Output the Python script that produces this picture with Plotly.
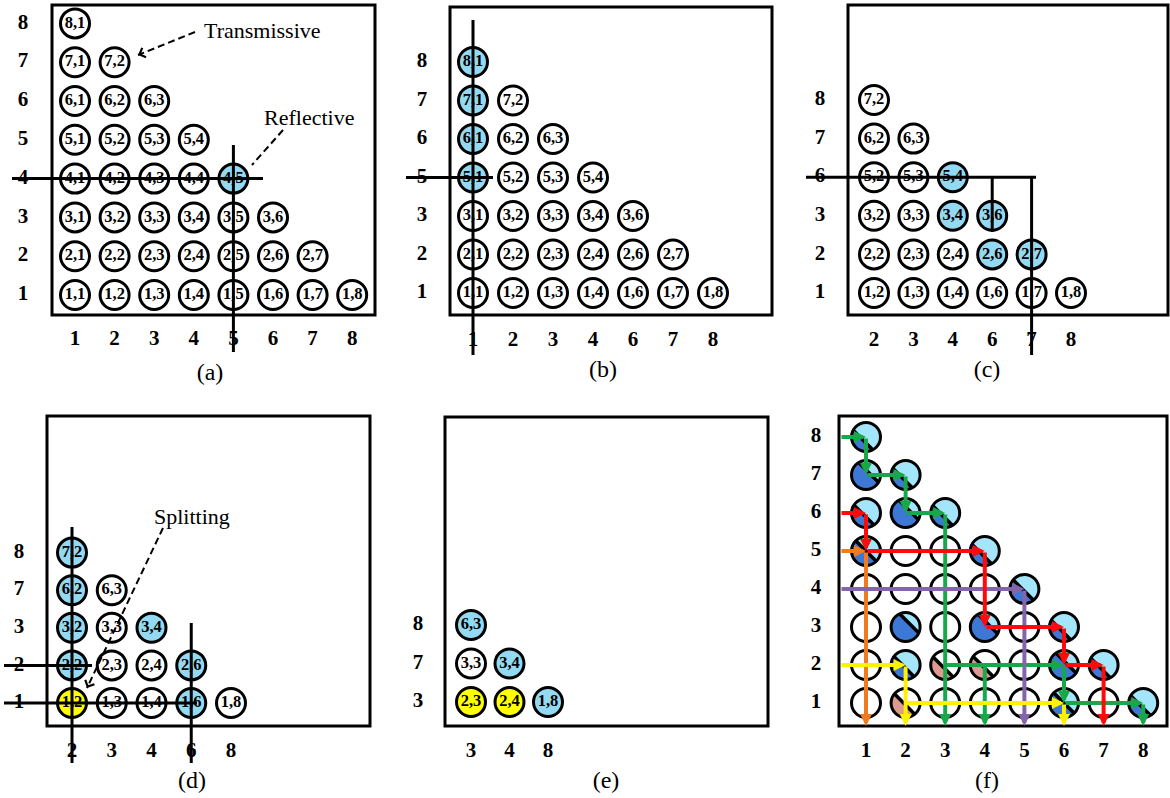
import math
import plotly.graph_objects as go

W, H = 1170, 798
SERIF = "Liberation Serif, Times New Roman, serif"

BLUE = "#93D9F2"
YELLOW = "#FFFF00"
WHITE = "#FFFFFF"
LIGHT_BLUE = "#A3E5FA"
DARK_BLUE = "#3D78D5"
PINK = "#DC9A92"

# ---------------- data ----------------
# (a) full lower-triangular array
A_XTICKS = ["1", "2", "3", "4", "5", "6", "7", "8"]
A_YTICKS = ["8", "7", "6", "5", "4", "3", "2", "1"]
A_ROWS = [
    ["8,1"],
    ["7,1", "7,2"],
    ["6,1", "6,2", "6,3"],
    ["5,1", "5,2", "5,3", "5,4"],
    ["4,1", "4,2", "4,3", "4,4", "4,5"],
    ["3,1", "3,2", "3,3", "3,4", "3,5", "3,6"],
    ["2,1", "2,2", "2,3", "2,4", "2,5", "2,6", "2,7"],
    ["1,1", "1,2", "1,3", "1,4", "1,5", "1,6", "1,7", "1,8"],
]
A_BLUE = ["4,5"]
A_YELLOW = []

# (b) after removing row 4 and column 5
B_XTICKS = ["1", "2", "3", "4", "6", "7", "8"]
B_YTICKS = ["8", "7", "6", "5", "3", "2", "1"]
B_ROWS = [
    ["8,1"],
    ["7,1", "7,2"],
    ["6,1", "6,2", "6,3"],
    ["5,1", "5,2", "5,3", "5,4"],
    ["3,1", "3,2", "3,3", "3,4", "3,6"],
    ["2,1", "2,2", "2,3", "2,4", "2,6", "2,7"],
    ["1,1", "1,2", "1,3", "1,4", "1,6", "1,7", "1,8"],
]
B_BLUE = ["8,1", "7,1", "6,1", "5,1"]
B_YELLOW = []

# (c)
C_XTICKS = ["2", "3", "4", "6", "7", "8"]
C_YTICKS = ["8", "7", "6", "3", "2", "1"]
C_ROWS = [
    ["7,2"],
    ["6,2", "6,3"],
    ["5,2", "5,3", "5,4"],
    ["3,2", "3,3", "3,4", "3,6"],
    ["2,2", "2,3", "2,4", "2,6", "2,7"],
    ["1,2", "1,3", "1,4", "1,6", "1,7", "1,8"],
]
C_BLUE = ["5,4", "3,4", "3,6", "2,6", "2,7"]
C_YELLOW = []

# (d)
D_XTICKS = ["2", "3", "4", "6", "8"]
D_YTICKS = ["8", "7", "3", "2", "1"]
D_ROWS = [
    ["7,2"],
    ["6,2", "6,3"],
    ["3,2", "3,3", "3,4"],
    ["2,2", "2,3", "2,4", "2,6"],
    ["1,2", "1,3", "1,4", "1,6", "1,8"],
]
D_BLUE = ["7,2", "6,2", "3,2", "2,2", "3,4", "2,6", "1,6"]
D_YELLOW = ["1,2"]

# (e)
E_XTICKS = ["3", "4", "8"]
E_YTICKS = ["8", "7", "3"]
E_ROWS = [
    ["6,3"],
    ["3,3", "3,4"],
    ["2,3", "2,4", "1,8"],
]
E_BLUE = ["6,3", "3,4", "1,8"]
E_YELLOW = ["2,3", "2,4"]

# (f) complete array with split states: (row, col) -> (colour scheme, chord offset)
F_XTICKS = ["1", "2", "3", "4", "5", "6", "7", "8"]
F_YTICKS = ["8", "7", "6", "5", "4", "3", "2", "1"]
F_SPLIT = {
    (8, 1): ("blue", -0.30),
    (7, 1): ("blue", 0.25),
    (7, 2): ("blue", -0.30),
    (6, 1): ("blue", -0.20),
    (6, 2): ("blue", 0.30),
    (6, 3): ("blue", -0.25),
    (5, 1): ("blue", 0.00),
    (5, 4): ("blue", -0.30),
    (4, 5): ("blue", -0.10),
    (3, 2): ("blue", 0.35),
    (3, 4): ("blue", 0.30),
    (3, 6): ("blue", -0.30),
    (2, 2): ("blue", -0.15),
    (2, 3): ("pink", -0.20),
    (2, 4): ("pink", -0.15),
    (2, 6): ("blue", 0.20),
    (2, 7): ("blue", -0.30),
    (1, 2): ("pink", -0.10),
    (1, 6): ("blue", 0.00),
    (1, 8): ("blue", -0.25),
}
# signal routes through the array, as (col, row) nodes; "L" = array input edge, "B" = output edge
F_ROUTES = [
    ("#F07A1E", [("L", 5), (1, 5), (1, "B")]),
    ("#18A84A", [("L", 8), (1, 8), (1, 7), (2, 7), (2, 6), (3, 6), (3, "B")]),
    ("#18A84A", [(3, 2), (6, 2), (6, 1), (8, 1), (8, "B")]),
    ("#18A84A", [(4, 2), (4, "B")]),
    ("#8466A8", [("L", 4), (5, 4), (5, "B")]),
    ("#FF0A0A", [("L", 6), (1, 6), (1, 5), (4, 5), (4, 3), (6, 3), (6, 2), (7, 2), (7, "B")]),
    ("#FFF200", [("L", 2), (2, 2), (2, "B")]),
    ("#FFF200", [(2, 1), (6, 1), (6, "B")]),
]

# ---------------- layout geometry (pixels) ----------------
PANELS = [
    dict(tag="(a)", cell=(0, 0, 390, 390), x0=75, y0=295, dx=39.6, dy=38.8,
         box=(52, 5, 375, 315), ytick_x=23, xtick_y=340, cap=(210, 374)),
    dict(tag="(b)", cell=(390, 0, 780, 390), x0=473, y0=293, dx=40.0, dy=38.5,
         box=(450, 7, 772, 315), ytick_x=422, xtick_y=341, cap=(603, 371)),
    dict(tag="(c)", cell=(780, 0, 1170, 390), x0=874, y0=293, dx=39.4, dy=38.6,
         box=(848, 5, 1168, 315), ytick_x=820, xtick_y=341, cap=(987, 371)),
    dict(tag="(d)", cell=(0, 390, 390, 798), x0=72, y0=703, dx=39.75, dy=37.6,
         box=(47, 416, 370, 726), ytick_x=19, xtick_y=752, cap=(192, 782)),
    dict(tag="(e)", cell=(390, 390, 780, 798), x0=471, y0=702, dx=38.5, dy=38.5,
         box=(445, 417, 768, 726), ytick_x=418, xtick_y=752, cap=(606, 782)),
    dict(tag="(f)", cell=(780, 390, 1170, 798), x0=866, y0=703, dx=39.6, dy=38.0,
         box=(839, 416, 1167, 726), ytick_x=816, xtick_y=752, cap=(987, 782)),
]

ARRAYS = [
    (A_XTICKS, A_YTICKS, A_ROWS, A_BLUE, A_YELLOW),
    (B_XTICKS, B_YTICKS, B_ROWS, B_BLUE, B_YELLOW),
    (C_XTICKS, C_YTICKS, C_ROWS, C_BLUE, C_YELLOW),
    (D_XTICKS, D_YTICKS, D_ROWS, D_BLUE, D_YELLOW),
    (E_XTICKS, E_YTICKS, E_ROWS, E_BLUE, E_YELLOW),
]

# crosshairs: (orientation, grid index, from px, to px)
CROSSHAIRS = {
    0: [("h", 4, 12, 263), ("v", 5, 145, 352)],
    1: [("v", 1, 20, 355), ("h", 4, 406, 493)],
    2: [("h", 4, 806, 1036), ("v", 4, 176, 232), ("v", 5, 176, 355)],
    3: [("v", 1, 527, 763), ("h", 2, 4, 92), ("h", 1, 4, 197), ("v", 4, 623, 763)],
}

# call-outs: (panel, text, text px, dashed line start px, tip px)
CALLOUTS = [
    (0, "Transmissive", (262, 30), (195, 32), (138, 55)),
    (0, "Reflective", (309, 117), (283, 130), (252, 165)),
    (3, "Splitting", (192, 516), (163, 528), (87, 688)),
]

R_PX = 14.5


def ux(p, px):
    return 1 + (px - p["x0"]) / p["dx"]


def uy(p, py):
    return 1 + (p["y0"] - py) / p["dy"]


def axnames(k):
    s = "" if k == 0 else str(k + 1)
    return "x" + s, "y" + s


fig = go.Figure()
layout = {}
shapes = []
annotations = []

for k, p in enumerate(PANELS):
    xn, yn = axnames(k)
    cx0, cy0, cx1, cy1 = p["cell"]
    layout["xaxis" + xn[1:]] = dict(domain=[cx0 / W, cx1 / W], range=[ux(p, cx0), ux(p, cx1)],
                                    visible=False, fixedrange=True, anchor=yn)
    layout["yaxis" + yn[1:]] = dict(domain=[1 - cy1 / H, 1 - cy0 / H], range=[uy(p, cy1), uy(p, cy0)],
                                    visible=False, fixedrange=True, anchor=xn)
    bx0, by0, bx1, by1 = p["box"]
    shapes.append(dict(type="rect", xref=xn, yref=yn, x0=ux(p, bx0), x1=ux(p, bx1),
                       y0=uy(p, by1), y1=uy(p, by0), line=dict(color="black", width=3),
                       fillcolor="rgba(0,0,0,0)", layer="below"))

    if k < 5:
        xt, yt, rows, blue, yellow = ARRAYS[k]
    else:
        xt, yt, rows, blue, yellow = F_XTICKS, F_YTICKS, None, [], []

    # tick labels
    fig.add_trace(go.Scatter(
        x=list(range(1, len(xt) + 1)), y=[uy(p, p["xtick_y"])] * len(xt),
        text=[f"<b>{t}</b>" for t in xt], mode="text", textposition="middle center",
        textfont=dict(family=SERIF, size=21, color="black"),
        xaxis=xn, yaxis=yn, hoverinfo="skip", showlegend=False))
    n = len(yt)
    fig.add_trace(go.Scatter(
        x=[ux(p, p["ytick_x"])] * n, y=[n - i for i in range(n)],
        text=[f"<b>{t}</b>" for t in yt], mode="text", textposition="middle center",
        textfont=dict(family=SERIF, size=21, color="black"),
        xaxis=xn, yaxis=yn, hoverinfo="skip", showlegend=False))

    # caption
    fig.add_trace(go.Scatter(
        x=[ux(p, p["cap"][0])], y=[uy(p, p["cap"][1])], text=[p["tag"]], mode="text",
        textposition="middle center", textfont=dict(family=SERIF, size=24, color="black"),
        xaxis=xn, yaxis=yn, hoverinfo="skip", showlegend=False))

    if rows is not None:
        xs, ys, fills, labels = [], [], [], []
        nr = len(rows)
        for i, row in enumerate(rows):
            for j, lab in enumerate(row):
                xs.append(j + 1)
                ys.append(nr - i)
                fills.append(BLUE if lab in blue else (YELLOW if lab in yellow else WHITE))
                labels.append(f"<b>{lab}</b>")
        fig.add_trace(go.Scatter(
            x=xs, y=ys, mode="markers+text", text=labels, textposition="middle center",
            marker=dict(size=2 * R_PX, color=fills, line=dict(color="black", width=3)),
            textfont=dict(family=SERIF, size=16.5, color="black"),
            xaxis=xn, yaxis=yn, hoverinfo="skip", showlegend=False, cliponaxis=False))

    for orient, idx, a_px, b_px in CROSSHAIRS.get(k, []):
        if orient == "h":
            shapes.append(dict(type="line", xref=xn, yref=yn, x0=ux(p, a_px), x1=ux(p, b_px),
                               y0=idx, y1=idx, line=dict(color="black", width=3), layer="above"))
        else:
            shapes.append(dict(type="line", xref=xn, yref=yn, x0=idx, x1=idx,
                               y0=uy(p, a_px), y1=uy(p, b_px), line=dict(color="black", width=3),
                               layer="above"))

# call-out labels with dashed leaders
for k, txt, tpos, s, tip in CALLOUTS:
    p = PANELS[k]
    xn, yn = axnames(k)
    fig.add_trace(go.Scatter(
        x=[ux(p, s[0]), ux(p, tip[0])], y=[uy(p, s[1]), uy(p, tip[1])], mode="lines",
        line=dict(color="black", width=2, dash="7px,4px"),
        xaxis=xn, yaxis=yn, hoverinfo="skip", showlegend=False))
    annotations.append(dict(xref=xn, yref=yn, x=ux(p, tpos[0]), y=uy(p, tpos[1]), text=txt,
                            showarrow=False, font=dict(family=SERIF, size=22, color="black")))
    vx, vy = tip[0] - s[0], tip[1] - s[1]
    L = math.hypot(vx, vy)
    back = (tip[0] - vx / L * 5, tip[1] - vy / L * 5)
    annotations.append(dict(xref=xn, yref=yn, axref=xn, ayref=yn,
                            x=ux(p, tip[0]), y=uy(p, tip[1]), ax=ux(p, back[0]), ay=uy(p, back[1]),
                            text="", showarrow=True, arrowhead=4, arrowsize=1.3, arrowwidth=1.5,
                            arrowcolor="black", standoff=0))

# ---------------- panel (f) ----------------
p = PANELS[5]
xn, yn = axnames(5)
rdx, rdy = R_PX / p["dx"], R_PX / p["dy"]


def arc(cx, cy, t0, t1, npts=40):
    pts = [t0 + (t1 - t0) * i / (npts - 1) for i in range(npts)]
    return [cx + rdx * math.cos(t) for t in pts], [cy + rdy * math.sin(t) for t in pts]


chord_x, chord_y = [], []
for (r, c), (scheme, d) in F_SPLIT.items():
    a = math.acos(d)
    base = math.pi / 4
    upper_col, lower_col = (LIGHT_BLUE, DARK_BLUE) if scheme == "blue" else (WHITE, PINK)
    for (t0, t1, col) in [(base - a, base + a, upper_col), (base + a, base + 2 * math.pi - a, lower_col)]:
        ax_, ay_ = arc(c, r, t0, t1)
        fig.add_trace(go.Scatter(x=ax_ + [ax_[0]], y=ay_ + [ay_[0]], mode="lines", fill="toself",
                                 fillcolor=col, line=dict(width=0, color=col),
                                 xaxis=xn, yaxis=yn, hoverinfo="skip", showlegend=False))
    chord_x += [c + rdx * math.cos(base + a), c + rdx * math.cos(base - a), None]
    chord_y += [r + rdy * math.sin(base + a), r + rdy * math.sin(base - a), None]

fig.add_trace(go.Scatter(x=chord_x, y=chord_y, mode="lines", line=dict(color="black", width=3.5),
                         xaxis=xn, yaxis=yn, hoverinfo="skip", showlegend=False))

fx, fy, ffill = [], [], []
for r in range(1, 9):
    for c in range(1, 10 - r):
        fx.append(c)
        fy.append(r)
        ffill.append("rgba(0,0,0,0)" if (r, c) in F_SPLIT else WHITE)
fig.add_trace(go.Scatter(x=fx, y=fy, mode="markers",
                         marker=dict(size=2 * R_PX, color=ffill, line=dict(color="black", width=3)),
                         xaxis=xn, yaxis=yn, hoverinfo="skip", showlegend=False, cliponaxis=False))

LEFT = ux(p, 840)
BOTTOM = uy(p, 726)


def node(n_):
    cx, cy = n_
    return (LEFT if cx == "L" else cx), (BOTTOM if cy == "B" else cy)


for color, nodes in F_ROUTES:
    pts = [node(n_) for n_ in nodes]
    for (x0_, y0_), (x1_, y1_) in zip(pts[:-1], pts[1:]):
        annotations.append(dict(xref=xn, yref=yn, axref=xn, ayref=yn, x=x1_, y=y1_, ax=x0_, ay=y0_,
                                text="", showarrow=True, arrowhead=2, arrowsize=0.6, arrowwidth=4,
                                arrowcolor=color, standoff=0))

fig.update_layout(
    width=W, height=H, margin=dict(l=0, r=0, t=0, b=0),
    paper_bgcolor="white", plot_bgcolor="white", showlegend=False,
    shapes=shapes, annotations=annotations, **layout)

fig.write_html("out.html")
